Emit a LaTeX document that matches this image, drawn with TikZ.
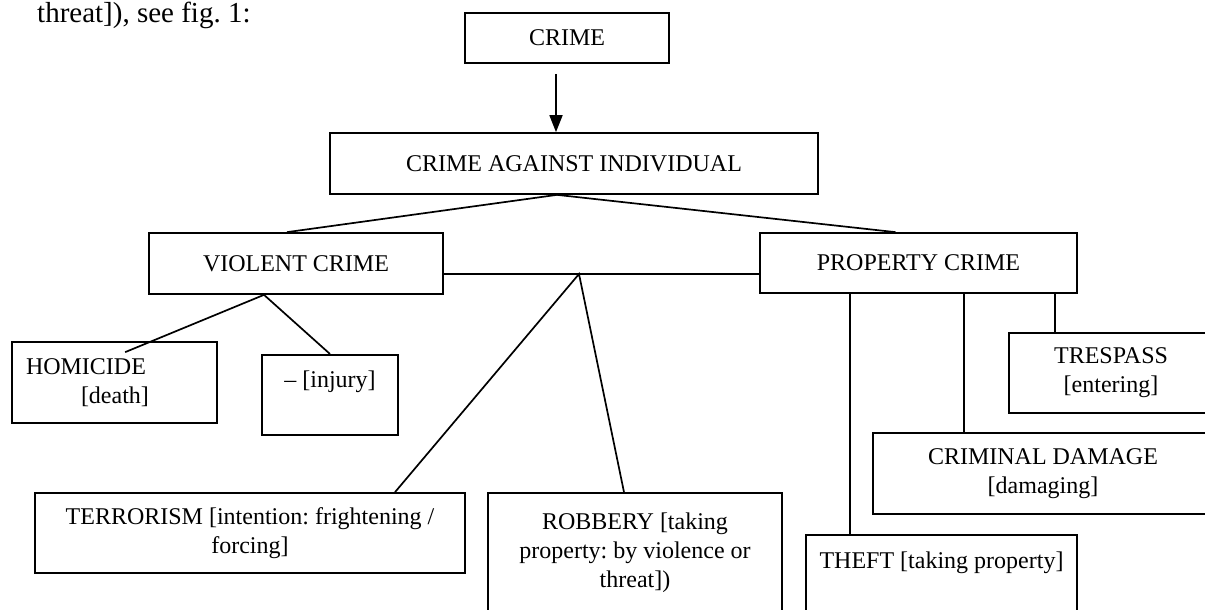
\documentclass[tikz,border=0pt]{standalone}
\usepackage{fontspec}
\setmainfont{Liberation Serif}
\frenchspacing
\usetikzlibrary{positioning,arrows.meta}
\tikzset{
box/.style={draw, rectangle, line width=1.7pt, inner sep=0pt, align=center, font=\fontsize{24}{29}\selectfont},
link/.style={line width=1.7pt},
}

\begin{document}
\begin{tikzpicture}[x=1pt,y=-1pt]
\useasboundingbox (0,0) rectangle (1205,610);
\clip (0,0) rectangle (1205,610);

\node[anchor=base west, inner sep=0pt, font=\fontsize{29}{35}\selectfont] (lead) at (37,23) {threat]), see fig. 1:};

\node[box, minimum width=204pt, minimum height=50pt] (crime) at (567,38) {CRIME};
\node[box, minimum width=488pt, minimum height=61pt] (individual) at (574,163.5) {CRIME AGAINST INDIVIDUAL};
\node[box, minimum width=294pt, minimum height=61pt] (violent) at (296,263.5) {VIOLENT CRIME};
\node[box, minimum width=317pt, minimum height=60pt] (property) at (918.5,263) {PROPERTY CRIME};

\node[box, align=left, text width=177pt, inner xsep=14pt, minimum height=81pt] (homicide) at (114.5,382.5) {HOMICIDE\\\hspace*{55pt}[death]};
\node[box, anchor=north, minimum width=136pt, text height=18pt, text depth=32pt, inner ysep=15pt] (injury) at (330,354) {-- [injury]};
\node[box, minimum width=430pt, minimum height=80pt] (terrorism) at (250,533) {TERRORISM [intention: frightening /\\forcing]};
\node[box, minimum width=294pt, minimum height=120pt] (robbery) at (635,553) {ROBBERY [taking\\property: by violence or\\threat])};
\node[box, anchor=north, minimum width=271pt, text height=18pt, text depth=60pt, inner ysep=16pt] (theft) at (941.5,534) {THEFT [taking property]};
\node[box, minimum width=340pt, minimum height=81pt] (damage) at (1043,473.5) {CRIMINAL DAMAGE\\{}[damaging]};
\node[box, minimum width=204pt, minimum height=80pt] (trespass) at (1111,373) {TRESPASS\\{}[entering]};

\draw[link, -{Triangle[length=17pt,width=13pt]}] ([xshift=-11pt,yshift=-10pt]crime.south) -- ([xshift=-18pt]individual.north);

\coordinate (top) at ([xshift=-17pt]individual.south);
\draw[link] ([xshift=-9pt]violent.north) -- (top) -- ([xshift=-23pt]property.north);
\draw[link] ([yshift=-10.5pt]violent.east) -- ([yshift=-10.5pt]violent.east -| property.west);
\coordinate (fork) at (579,274);
\draw[link] ([xshift=145pt]terrorism.north) -- (fork) -- ([xshift=-11pt]robbery.north);
\coordinate (knot) at ([xshift=-32pt]violent.south);
\draw[link] ([xshift=114pt,yshift=-11pt]homicide.north west) -- (knot) -- (injury.north);
\foreach \x/\n in {850/theft, 964/damage, 1055/trespass}
  \draw[link] (\x,0 |- property.south) -- (\x,0 |- \n.north);
\end{tikzpicture}
\end{document}
